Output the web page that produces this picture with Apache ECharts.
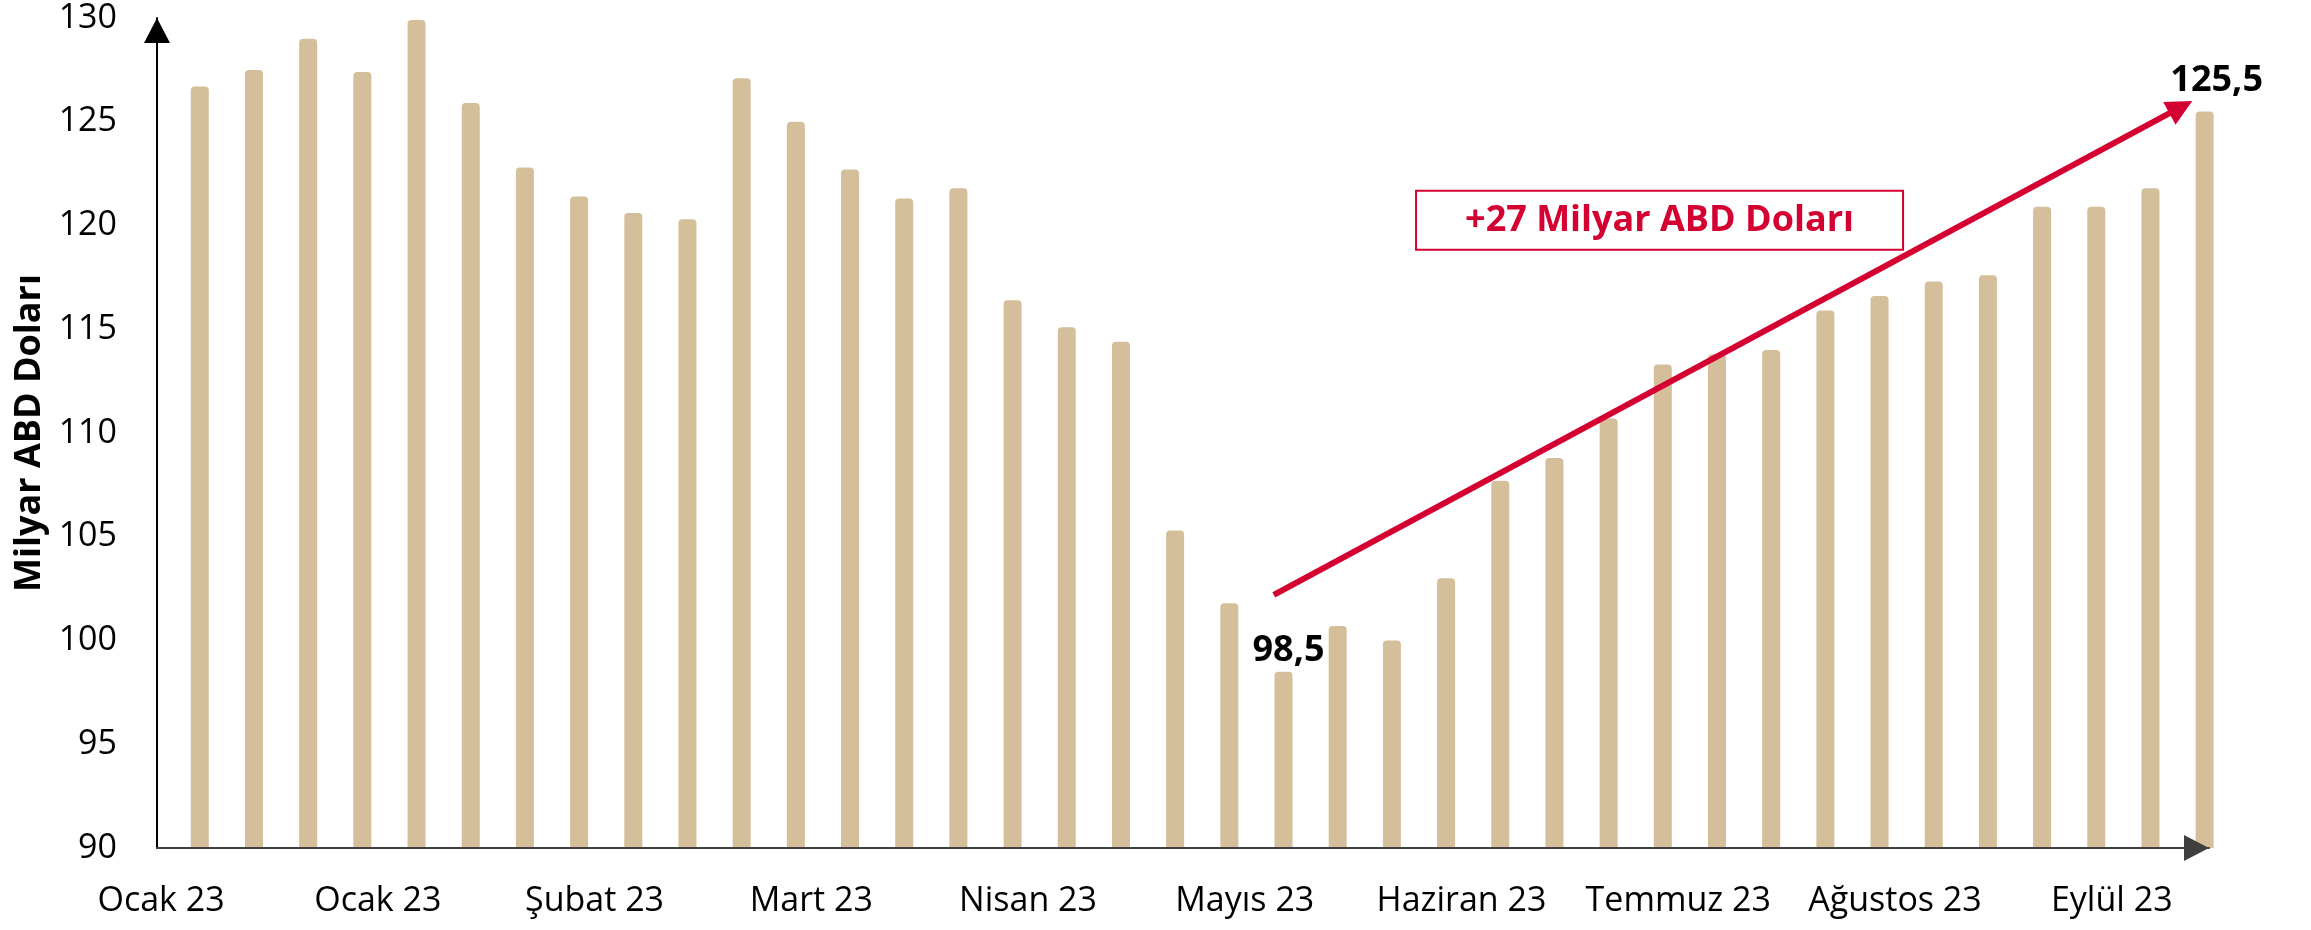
<!DOCTYPE html>
<html>
<head>
<meta charset="utf-8">
<script src="https://cdn.jsdelivr.net/npm/echarts@6/dist/echarts.min.js"></script>
<style>
html, body { margin: 0; padding: 0; background: #fff; }
#chart { width: 2311px; height: 930px; }
</style>
</head>
<body>
<div id="chart"></div>
<script>
// Aylık değerler, milyar ABD doları (38 çubuk)
const values = [
  126.7, 127.5, 129.0, 127.4, 129.9, 125.9, 122.8, 121.4, 120.6, 120.3,
  127.1, 125.0, 122.7, 121.3, 121.8, 116.4, 115.1, 114.4, 105.3, 101.8,
  98.5, 100.7, 100.0, 103.0, 107.7, 108.8, 110.7, 113.3, 113.8, 114.0,
  115.9, 116.6, 117.3, 117.6, 120.9, 120.9, 121.8, 125.5
];
const monthLabels = [
  'Ocak 23', 'Ocak 23', 'Şubat 23', 'Mart 23', 'Nisan 23',
  'Mayıs 23', 'Haziran 23', 'Temmuz 23', 'Ağustos 23', 'Eylül 23'
];
const yTicks = [90, 95, 100, 105, 110, 115, 120, 125, 130];
// işaretli çubuklar (sıra no)
const labelledBars = [20, 37];
// trend oku (çubuk sırası, değer)
const trendStart = [19.82, 102.2];
const trendEnd = [36.56, 125.7];
const trendText = '+27 Milyar ABD Doları';
const trendBoxAt = [26.94, 120.25];

const RED = '#D50032';
const FONT = '"Open Sans", "Noto Sans", sans-serif';
// ay etiketleri her 4 çubukta bir, çubuklar arasında
const LABEL_SHIFT = -0.715;
const labelPositions = monthLabels.map((_, k) => k * 4 + LABEL_SHIFT);
const labelOffsets = { 20: [5, 2], 37: [12, -8] };

const barData = values.map((v, i) => {
  const item = { value: [i, v] };
  if (labelledBars.indexOf(i) >= 0) {
    item.label = { show: true, position: 'top', offset: labelOffsets[i] };
  }
  return item;
});

const chart = echarts.init(document.getElementById('chart'));
chart.setOption({
  animation: false,
  backgroundColor: '#fff',
  textStyle: { fontFamily: FONT },
  grid: { left: 157, top: 18, right: 102, bottom: 82, containLabel: false },
  xAxis: {
    type: 'value',
    z: 5,
    min: -0.79,
    max: 37.08,
    splitLine: { show: false },
    axisTick: { show: false },
    axisLine: {
      show: true,
      onZero: false,
      lineStyle: { color: '#404040', width: 2 },
      symbol: ['none', 'triangle'],
      symbolSize: [26, 25],
      symbolOffset: [0, -12.5]
    },
    axisLabel: {
      customValues: labelPositions,
      formatter: v => monthLabels[Math.round((v - LABEL_SHIFT) / 4)] || '',
      fontSize: 34,
      color: '#000',
      fontFamily: FONT,
      margin: 36
    }
  },
  yAxis: {
    type: 'value',
    z: 5,
    min: yTicks[0],
    max: yTicks[yTicks.length - 1],
    interval: 5,
    startValue: yTicks[0],
    name: 'Milyar ABD Doları',
    nameLocation: 'middle',
    nameGap: 107,
    nameTextStyle: { fontSize: 36, fontWeight: 'bold', color: '#000', fontFamily: FONT },
    splitLine: { show: false },
    axisTick: { show: false },
    axisLine: {
      show: true,
      onZero: false,
      lineStyle: { color: '#000', width: 2 },
      symbol: ['none', 'triangle'],
      symbolSize: [26, 25],
      symbolOffset: [0, -12.5]
    },
    axisLabel: { fontSize: 34, color: '#000', fontFamily: FONT, margin: 40 }
  },
  series: [
    {
      type: 'bar',
      data: barData,
      barWidth: 18,
      clip: false,
      itemStyle: { color: '#D5BE9A', borderRadius: [4, 4, 0, 0] },
      label: {
        show: false,
        formatter: p => String(p.value[1]).replace('.', ','),
        fontSize: 36,
        fontWeight: 'bold',
        color: '#000',
        fontFamily: FONT
      },
      markLine: {
        silent: true,
        symbol: ['none', 'triangle'],
        symbolSize: [26, 26],
        label: { show: false },
        lineStyle: { color: RED, width: 6, type: 'solid' },
        data: [[{ coord: trendStart }, { coord: trendEnd }]]
      },
      markPoint: {
        silent: true,
        data: [{
          coord: trendBoxAt,
          symbol: 'rect',
          symbolSize: 1,
          itemStyle: { color: 'rgba(0,0,0,0)' },
          label: {
            show: true,
            position: 'inside',
            formatter: trendText,
            color: RED,
            fontSize: 36,
            fontWeight: 'bold',
            fontFamily: FONT,
            backgroundColor: '#fff',
            borderColor: RED,
            borderWidth: 2,
            width: 485,
            height: 57,
            lineHeight: 57,
            align: 'center',
            verticalAlign: 'middle',
            padding: 0
          }
        }]
      }
    }
  ]
});
</script>
</body>
</html>
